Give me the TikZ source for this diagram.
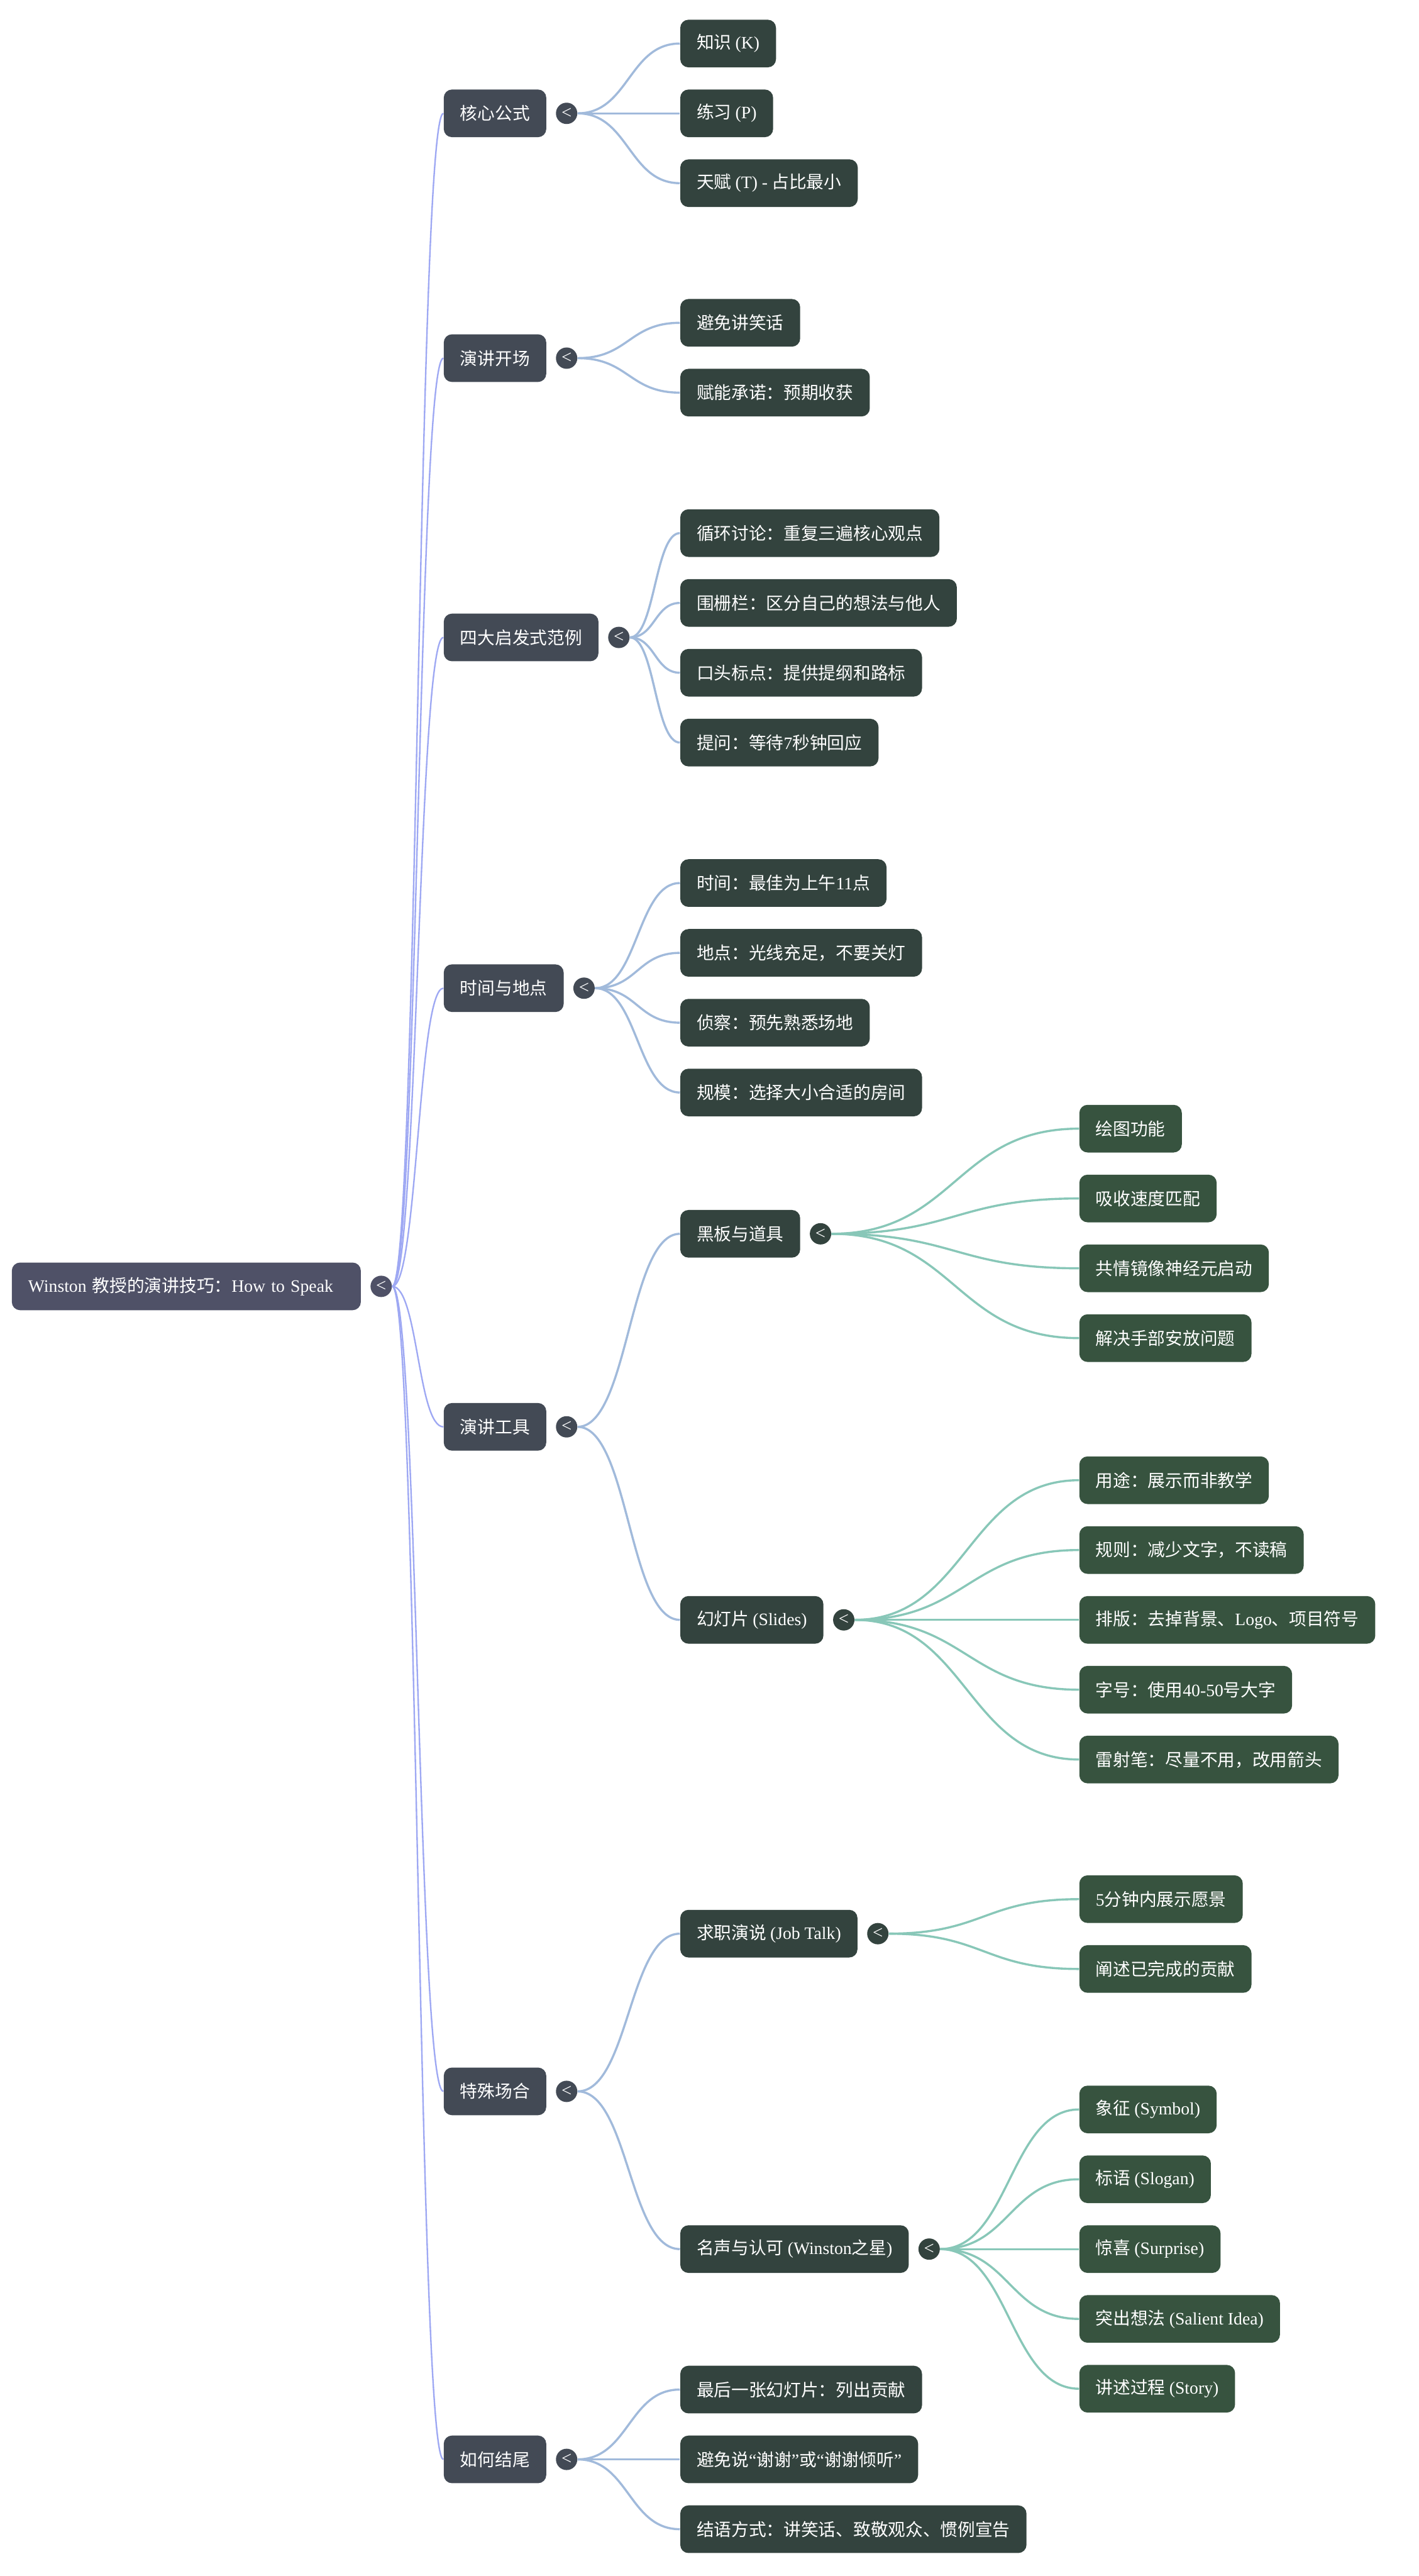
\documentclass[tikz,border=0pt]{standalone}
\usepackage{fontspec}
\setmainfont{Liberation Serif}
\newfontfamily\zh{Noto Sans CJK SC}
\usepackage{tikz}
\usetikzlibrary{positioning, calc}
\definecolor{rootgray}{HTML}{4F5167}
\definecolor{topicgray}{HTML}{434A55}
\definecolor{subgreen}{HTML}{33433E}
\definecolor{leafgreen}{HTML}{37533F}
\definecolor{linkviolet}{HTML}{9EA8F3}
\definecolor{linkblue}{HTML}{A1BADB}
\definecolor{linkmint}{HTML}{88C7B8}
\newcommand\en[1]{{\rmfamily #1}}
\newcommand\link[3]{\draw[#1] let \p1=(#2), \p2=(#3) in
  (\p1) .. controls ({(\x1+\x2)/2},\y1) and ({(\x1+\x2)/2},\y2) .. (\p2);}

\begin{document}
\begin{tikzpicture}[
  x=1pt, y=-1pt,
  box/.style={rectangle, rounded corners=5pt, minimum height=29pt,
              inner xsep=10pt, inner ysep=0pt, anchor=west, text=white,
              font=\zh\fontsize{10.6}{13}\selectfont},
  rootbox/.style={box, fill=rootgray, align=left, text width=192.5pt},
  topic/.style={box, fill=topicgray},
  sub/.style={box, fill=subgreen},
  leaf/.style={box, fill=leafgreen},
  fold/.style={circle, minimum size=13pt, inner sep=0pt, text=white,
               font=\rmfamily\fontsize{11}{11}\selectfont, right=5.5pt of #1},
  rootlink/.style={draw=linkviolet, line width=0.9pt},
  topiclink/.style={draw=linkblue, line width=1.3pt},
  sublink/.style={draw=linkmint, line width=1.3pt},
]

\fill[white] (0,0) rectangle (864,1568);

% root
\node[rootbox] (root) at (7,783) {\en{Winston} 教授的演讲技巧：\en{How to Speak}};
\node[fold=root, fill=rootgray] (rootc) {<};

% main topics
\node[topic] (core) at (270,69) {核心公式};
\node[topic] (open) at (270,218) {演讲开场};
\node[topic] (heur) at (270,388) {四大启发式范例};
\node[topic] (time) at (270,601.5) {时间与地点};
\node[topic] (tool) at (270,868.5) {演讲工具};
\node[topic] (spec) at (270,1273) {特殊场合};
\node[topic] (ending) at (270,1497) {如何结尾};
\foreach \k in {core,open,heur,time,tool,spec,ending}
  \node[fold=\k, fill=topicgray] (\k c) {<};

% core formula
\node[sub] (core1) at (414,26.5) {知识 \en{(K)}};
\node[sub] (core2) at (414,69) {练习 \en{(P)}};
\node[sub] (core3) at (414,111.5) {天赋 \en{(T) -} 占比最小};

% opening
\node[sub] (open1) at (414,196.5) {避免讲笑话};
\node[sub] (open2) at (414,239) {赋能承诺：预期收获};

% heuristics
\node[sub] (heur1) at (414,324.5) {循环讨论：重复三遍核心观点};
\node[sub] (heur2) at (414,367) {围栅栏：区分自己的想法与他人};
\node[sub] (heur3) at (414,409.5) {口头标点：提供提纲和路标};
\node[sub] (heur4) at (414,452) {提问：等待\en{7}秒钟回应};

% time and place
\node[sub] (time1) at (414,537.5) {时间：最佳为上午\en{11}点};
\node[sub] (time2) at (414,580) {地点：光线充足，不要关灯};
\node[sub] (time3) at (414,622.5) {侦察：预先熟悉场地};
\node[sub] (time4) at (414,665) {规模：选择大小合适的房间};

% tools
\node[sub] (board) at (414,751) {黑板与道具};
\node[sub] (slides) at (414,986) {幻灯片 \en{(Slides)}};
\node[fold=board, fill=subgreen] (boardc) {<};
\node[fold=slides, fill=subgreen] (slidesc) {<};

\node[leaf] (board1) at (657,687) {绘图功能};
\node[leaf] (board2) at (657,729.5) {吸收速度匹配};
\node[leaf] (board3) at (657,772) {共情镜像神经元启动};
\node[leaf] (board4) at (657,814.5) {解决手部安放问题};

\node[leaf] (slides1) at (657,901) {用途：展示而非教学};
\node[leaf] (slides2) at (657,943.5) {规则：减少文字，不读稿};
\node[leaf] (slides3) at (657,986) {排版：去掉背景、\en{Logo}、项目符号};
\node[leaf] (slides4) at (657,1028.5) {字号：使用\en{40-50}号大字};
\node[leaf] (slides5) at (657,1071) {雷射笔：尽量不用，改用箭头};

% special occasions
\node[sub] (job) at (414,1177) {求职演说 \en{(Job Talk)}};
\node[sub] (fame) at (414,1369) {名声与认可 \en{(Winston}之星\en{)}};
\node[fold=job, fill=subgreen] (jobc) {<};
\node[fold=fame, fill=subgreen] (famec) {<};

\node[leaf] (job1) at (657,1156) {\en{5}分钟内展示愿景};
\node[leaf] (job2) at (657,1198.5) {阐述已完成的贡献};

\node[leaf] (fame1) at (657,1284) {象征 \en{(Symbol)}};
\node[leaf] (fame2) at (657,1326.5) {标语 \en{(Slogan)}};
\node[leaf] (fame3) at (657,1369) {惊喜 \en{(Surprise)}};
\node[leaf] (fame4) at (657,1411.5) {突出想法 \en{(Salient Idea)}};
\node[leaf] (fame5) at (657,1454) {讲述过程 \en{(Story)}};

% ending
\node[sub] (ending1) at (414,1454.5) {最后一张幻灯片：列出贡献};
\node[sub] (ending2) at (414,1497) {避免说\en{“}谢谢\en{”}或\en{“}谢谢倾听\en{”}};
\node[sub] (ending3) at (414,1539.5) {结语方式：讲笑话、致敬观众、惯例宣告};

% links
\foreach \k in {core,open,heur,time,tool,spec,ending}
  \link{rootlink}{rootc.east}{\k.west};
\foreach \k in {core1,core2,core3} \link{topiclink}{corec.east}{\k.west};
\foreach \k in {open1,open2} \link{topiclink}{openc.east}{\k.west};
\foreach \k in {heur1,heur2,heur3,heur4} \link{topiclink}{heurc.east}{\k.west};
\foreach \k in {time1,time2,time3,time4} \link{topiclink}{timec.east}{\k.west};
\foreach \k in {board,slides} \link{topiclink}{toolc.east}{\k.west};
\foreach \k in {job,fame} \link{topiclink}{specc.east}{\k.west};
\foreach \k in {ending1,ending2,ending3} \link{topiclink}{endingc.east}{\k.west};
\foreach \k in {board1,board2,board3,board4} \link{sublink}{boardc.east}{\k.west};
\foreach \k in {slides1,slides2,slides3,slides4,slides5} \link{sublink}{slidesc.east}{\k.west};
\foreach \k in {job1,job2} \link{sublink}{jobc.east}{\k.west};
\foreach \k in {fame1,fame2,fame3,fame4,fame5} \link{sublink}{famec.east}{\k.west};

\end{tikzpicture}
\end{document}
